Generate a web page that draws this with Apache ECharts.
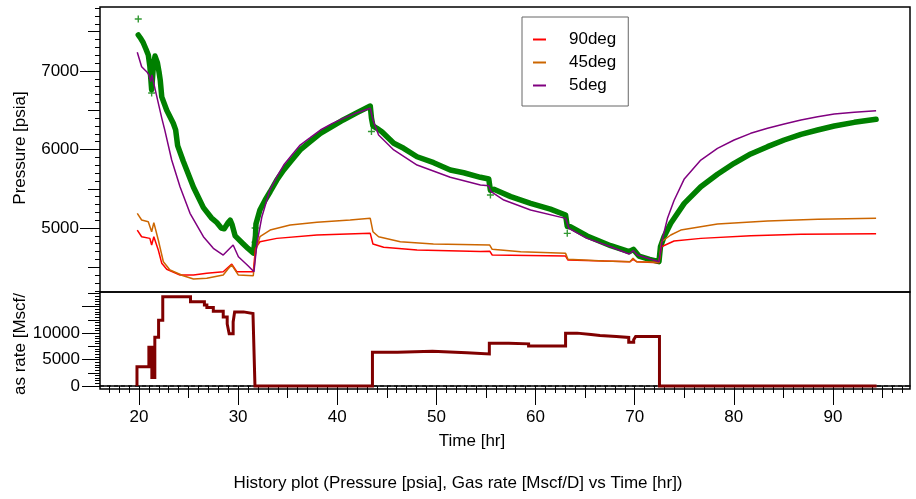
<!DOCTYPE html>
<html>
<head>
<meta charset="utf-8">
<script src="https://cdn.jsdelivr.net/npm/echarts@6/dist/echarts.min.js"></script>
<style>
  html, body { margin: 0; padding: 0; background: #fff; }
  #chart { width: 916px; height: 499px; }
</style>
</head>
<body>
<div id="chart"></div>
<script>
// ---- data: time [hr] / pressure [psia] ----
const measured = [
  [19.93,7459],[20.2,7410],[20.43,7360],[20.7,7280],[20.94,7204],[21.1,7060],[21.28,6760],
  [21.45,7055],[21.62,7190],[21.85,7110],[22.02,6990],[22.15,6880],[22.3,6670],[22.8,6500],
  [23.46,6334],[23.7,6250],[23.9,6050],[24.47,5850],[25.5,5520],[26.5,5260],[27.3,5130],
  [27.85,5070],[28.3,5000],[28.6,4990],[29.0,5070],[29.2,5100],[29.4,5040],[29.7,4900],
  [30.5,4800],[31.0,4740],[31.55,4680],[31.65,4660],[31.75,4900],[31.8,5050],[32.2,5229],
  [32.73,5357],[33.23,5462],[33.9,5611],[34.6,5739],[35.42,5866],[36.26,5994],[37.27,6099],
  [38.3,6206],[39.46,6290],[40.6,6376],[42.0,6469],[43.33,6554],
  [43.45,6400],[43.6,6300],[44.0,6270],[44.5,6227],[45.7,6079],[46.7,6015],[48.05,5908],
  [49.73,5832],[51.4,5739],[52.76,5704],[54.44,5646],
  [55.28,5624],[55.45,5480],[55.8,5493],[57.5,5400],[59.5,5314],[61.5,5240],[63.03,5166],
  [63.2,5020],[63.5,5017],[65.2,4898],[67.58,4775],[69.43,4698],[69.87,4728],[70.43,4643],
  [71.5,4600],[72.45,4571],[72.6,4762],[72.96,4889],[73.64,5060],[75.0,5314],[76.67,5526],
  [78.35,5684],[80.03,5824],[81.7,5943],[83.4,6036],[85.08,6121],[86.77,6193],[88.45,6248],
  [90.13,6299],[92.15,6346],[94.35,6385]
];
const measuredStray = [
  [19.93,7662],[21.28,6720],[31.7,4820],[31.72,5000],[43.45,6230],[55.45,5420],[63.2,4932]
];
const deg90 = [
  [19.83,4974],[20.27,4889],[21.1,4868],[21.28,4783],[21.5,4889],[21.95,4720],[22.3,4550],
  [22.8,4474],[24.14,4401],[25.5,4401],[26.84,4423],[28.5,4443],[29.36,4541],[29.87,4443],
  [31.53,4443],[31.7,4443],[31.75,4741],[32.2,4825],[33.9,4868],[37.95,4911],[43.33,4932],
  [43.6,4796],[44.68,4754],[48.05,4720],[54.44,4700],[55.38,4705],[55.63,4656],[63.03,4643],
  [63.27,4592],[69.53,4571],[69.83,4601],[70.2,4571],[72.45,4558],[72.7,4762],[73.97,4834],
  [76.67,4868],[81.7,4902],[86.77,4920],[94.35,4927]
];
const deg45 = [
  [19.83,5187],[20.27,5102],[20.94,5080],[21.28,4953],[21.5,5068],[21.95,4847],[22.46,4570],
  [23.13,4465],[24.47,4392],[25.5,4350],[26.84,4359],[28.5,4401],[29.0,4480],[29.36,4528],
  [30.03,4401],[31.53,4392],[31.7,4392],[31.8,4720],[32.2,4889],[33.23,4974],[35.25,5038],
  [37.95,5072],[41.3,5102],[43.33,5123],[43.6,4953],[44.17,4889],[46.36,4825],[49.7,4796],
  [55.38,4783],[55.63,4728],[58.5,4698],[63.03,4677],[63.27,4601],[66.9,4580],[69.53,4571],
  [69.83,4614],[70.2,4571],[72.45,4563],[72.7,4825],[73.64,4911],[74.65,4974],[78.35,5051],
  [83.4,5089],[88.45,5111],[94.35,5123]
];
const deg5 = [
  [19.83,7238],[20.27,7055],[20.78,6991],[21.0,6950],[21.18,6864],[21.3,6950],[21.45,6970],
  [21.8,6673],[22.3,6400],[22.6,6250],[23.3,5866],[24.14,5526],[25.15,5187],[26.5,4889],
  [27.5,4741],[28.5,4656],[29.0,4720],[29.5,4783],[30.03,4634],[31.0,4520],[31.6,4443],
  [31.7,4443],[31.9,4805],[32.4,5144],[33.2,5484],[33.9,5650],[34.6,5802],[35.42,5930],
  [36.26,6057],[37.27,6150],[38.3,6248],[39.46,6330],[40.6,6397],[42.0,6469],[43.33,6525],
  [43.6,6376],[44.17,6185],[45.7,5994],[48.05,5802],[51.4,5646],
  [54.44,5548],[55.28,5539],[55.52,5462],[56.8,5356],[59.5,5229],[63.03,5123],[63.36,4996],
  [65.2,4868],[67.58,4762],[69.43,4669],[69.87,4711],[70.27,4656],[72.45,4571],[72.8,4860],
  [73.3,5120],[73.97,5350],[74.98,5620],[76.67,5866],[78.35,6015],[80.03,6121],[81.7,6206],
  [83.4,6270],[85.08,6325],[86.77,6376],[88.45,6418],[90.13,6452],[92.15,6474],[94.35,6494]
];
// gas rate [Mscf/D]: each value holds from its time until the next one
const gasRate = [
  [19.8,0],[19.8,3630],[21.0,7330],[21.1,7000],[21.2,7330],[21.3,1590],[21.6,9240],
  [21.98,12430],[22.4,16890],[25.2,15930],[26.6,15300],[26.85,14830],[27.5,14150],
  [28.5,13060],[28.9,11740],[29.1,9880],[29.5,12110],[29.65,14020],[30.55,13700],
  [31.5,13380],[31.7,0],[43.55,6370],[46.07,6570],[49.6,6310],[53.07,6060],[55.34,8100],
  [57.3,7970],[59.3,7580],[63.03,10000],[64.2,9740],[65.6,9550],[66.5,9370],[68.15,9180],
  [69.4,8290],[69.9,8740],[70.1,9370],[72.5,0],[94.4,0]
];

// ---- tick labels ----
const timeLabels = [20, 30, 40, 50, 60, 70, 80, 90];
const pressureLabels = [5000, 6000, 7000];
const rateLabels = [0, 5000, 10000];

// ---- axis extents ----
const T_MIN = 16.07, T_MAX = 97.77;
const P_MIN = 4185, P_MAX = 7815;
const Q_MIN = -570, Q_MAX = 17780;

const FONT = '"Liberation Sans", Arial, sans-serif';
const plain = (v) => String(v);

function range(a, b, step) {
  const out = [];
  for (let v = a; v <= b + 1e-9; v += step) out.push(Math.round(v * 1000) / 1000);
  return out;
}

function tickAxis(kind, grid, min, max, values, len, extra) {
  const ax = {
    type: 'value', gridIndex: grid, min: min, max: max,
    splitLine: { show: false },
    axisLine: { show: false },
    axisLabel: { show: false },
    axisTick: { show: true, length: len, customValues: values,
                lineStyle: { color: '#000', width: 1 } }
  };
  ax.position = kind === 'x' ? 'bottom' : 'left';
  return Object.assign(ax, extra || {});
}

function labelStyle(values, margin) {
  return { show: true, customValues: values, margin: margin, color: '#000',
           fontSize: 17, fontFamily: FONT, formatter: plain };
}

const chart = echarts.init(document.getElementById('chart'), null, { renderer: 'canvas' });

const grids = [
  { left: 100, top: 7, width: 810, height: 285, show: true, borderColor: '#000', borderWidth: 1.5, backgroundColor: 'transparent' },
  { left: 100, top: 292, width: 810, height: 97, show: true, borderColor: '#000', borderWidth: 1.5, backgroundColor: 'transparent' }
];

const xAxes = [
  { type: 'value', gridIndex: 0, min: T_MIN, max: T_MAX, show: false },
  tickAxis('x', 1, T_MIN, T_MAX, timeLabels, 19, {
    axisLine: { show: true, lineStyle: { color: '#000', width: 1.5 } },
    axisLabel: labelStyle(timeLabels, 20)
  }),
  tickAxis('x', 1, T_MIN, T_MAX, range(25, 95, 10), 12),
  tickAxis('x', 1, T_MIN, T_MAX, range(17, 97, 1), 7)
];

const yAxes = [
  tickAxis('y', 0, P_MIN, P_MAX, pressureLabels, 20, { axisLabel: labelStyle(pressureLabels, 21) }),
  tickAxis('y', 0, P_MIN, P_MAX, range(4500, 7500, 1000), 12),
  tickAxis('y', 0, P_MIN, P_MAX, range(4200, 7800, 100), 5),
  tickAxis('y', 1, Q_MIN, Q_MAX, [0, 5000, 10000, 15000], 18, { axisLabel: labelStyle(rateLabels, 20) }),
  tickAxis('y', 1, Q_MIN, Q_MAX, range(2500, 17500, 5000), 12),
  tickAxis('y', 1, Q_MIN, Q_MAX, range(0, 17500, 500), 5)
];

const thin = (c) => ({ color: c, width: 1.5 });

const option = {
  animation: false,
  backgroundColor: '#fff',
  grid: grids,
  xAxis: xAxes,
  yAxis: yAxes,
  legend: {
    data: ['90deg', '45deg', '5deg'],
    orient: 'vertical',
    left: 522, top: 17,
    padding: [14, 12, 12, 11],
    itemGap: 6,
    itemWidth: 13, itemHeight: 2,
    icon: 'rect',
    backgroundColor: '#fff',
    borderColor: '#666', borderWidth: 1, borderRadius: 0,
    textStyle: { fontSize: 17, fontFamily: FONT, color: '#000', lineHeight: 16.5,
                 padding: [0, 0, 0, 18] }
  },
  series: [
    { name: 'zero', type: 'line', xAxisIndex: 1, yAxisIndex: 3, silent: true,
      data: [[T_MIN, 0], [T_MAX, 0]], symbol: 'none', z: 1,
      lineStyle: { color: '#000', width: 1, type: [4, 3] } },
    { name: 'Gas rate', type: 'line', step: 'end', xAxisIndex: 1, yAxisIndex: 3,
      data: gasRate, symbol: 'none', z: 3,
      lineStyle: { color: '#800000', width: 3, join: 'miter' } },
    { name: 'Pressure', type: 'line', xAxisIndex: 0, yAxisIndex: 0,
      data: measured, symbol: 'none', z: 2,
      lineStyle: { color: '#008000', width: 5.5, join: 'round', cap: 'round' } },
    { name: 'Pressure pts', type: 'scatter', xAxisIndex: 0, yAxisIndex: 0,
      data: measuredStray, z: 2,
      symbol: 'path://M4,0H6V4H10V6H6V10H4V6H0V4H4Z', symbolSize: 7,
      itemStyle: { color: '#008000' } },
    { name: '90deg', type: 'line', xAxisIndex: 0, yAxisIndex: 0, data: deg90,
      symbol: 'none', z: 3, color: '#ff0000', lineStyle: thin('#ff0000') },
    { name: '45deg', type: 'line', xAxisIndex: 0, yAxisIndex: 0, data: deg45,
      symbol: 'none', z: 3, color: '#cc6600', lineStyle: thin('#cc6600') },
    { name: '5deg', type: 'line', xAxisIndex: 0, yAxisIndex: 0, data: deg5,
      symbol: 'none', z: 3, color: '#800080', lineStyle: thin('#800080') }
  ],
  graphic: [
    { type: 'text', x: 20, y: 148, rotation: Math.PI / 2,
      style: { text: 'Pressure [psia]', font: '17px ' + FONT, fill: '#000',
               textAlign: 'center', textVerticalAlign: 'middle', align: 'center', verticalAlign: 'middle' } },
    { type: 'text', x: 20, y: 344, rotation: Math.PI / 2,
      style: { text: 'as rate [Mscf/', font: '17px ' + FONT, fill: '#000',
               textAlign: 'center', textVerticalAlign: 'middle', align: 'center', verticalAlign: 'middle' } },
    { type: 'text', x: 472, y: 441,
      style: { text: 'Time [hr]', font: '17px ' + FONT, fill: '#000',
               textAlign: 'center', textVerticalAlign: 'middle', align: 'center', verticalAlign: 'middle' } },
    { type: 'text', x: 458, y: 483,
      style: { text: 'History plot (Pressure [psia], Gas rate [Mscf/D] vs Time [hr])', font: '17px ' + FONT, fill: '#000',
               textAlign: 'center', textVerticalAlign: 'middle', align: 'center', verticalAlign: 'middle' } }
  ]
};

chart.setOption(option);
</script>
</body>
</html>
